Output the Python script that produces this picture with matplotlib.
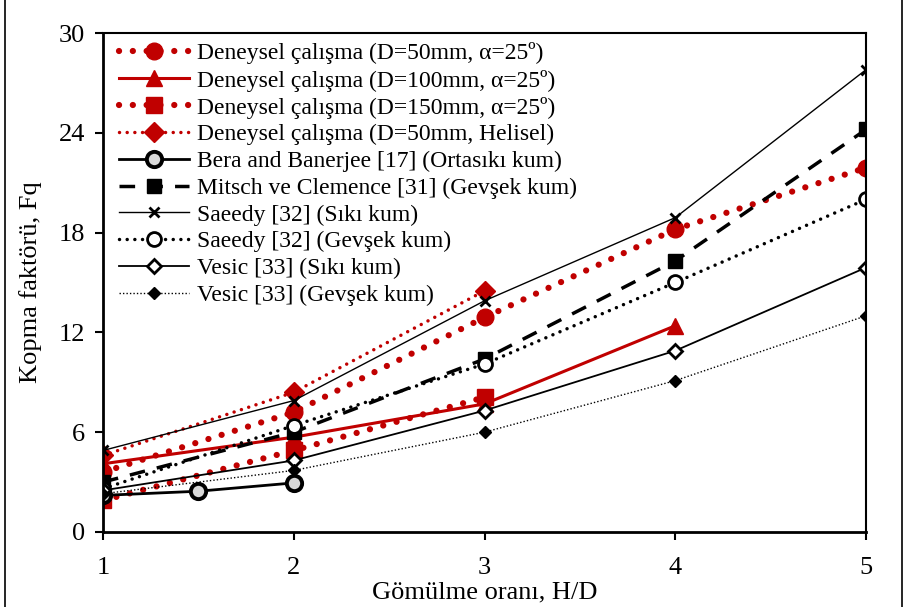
import matplotlib
matplotlib.use('Agg')
import matplotlib.pyplot as plt
from matplotlib.patches import Rectangle

plt.rcParams['font.family'] = ['Liberation Serif', 'DejaVu Serif']

red = '#C00000'

# H/D values
x_full = [1, 2, 3, 4, 5]
x_d50 = [1, 2, 3, 4, 5]
x_d100 = [1, 2, 3, 4]
x_d150 = [1, 2, 3]
x_helis = [1, 2, 3]
x_bera = [1, 1.5, 2]

# Fq values
fq_d50 = [3.6, 7.2, 12.9, 18.2, 21.9]
fq_d100 = [4.1, 5.7, 7.7, 12.4]
fq_d150 = [1.9, 4.9, 8.1]
fq_helis = [4.6, 8.4, 14.5]
fq_bera = [2.2, 2.45, 2.95]
fq_mitsch = [3.0, 6.0, 10.4, 16.3, 24.2]
fq_saeedy_siki = [4.9, 7.9, 13.9, 18.9, 27.8]
fq_saeedy_gevsek = [2.6, 6.4, 10.1, 15.0, 20.0]
fq_vesic_siki = [2.5, 4.3, 7.3, 10.9, 15.9]
fq_vesic_gevsek = [2.3, 3.7, 6.0, 9.1, 13.0]

labels = [
    'Deneysel çalışma (D=50mm, α=25º)',
    'Deneysel çalışma (D=100mm, α=25º)',
    'Deneysel çalışma (D=150mm, α=25º)',
    'Deneysel çalışma (D=50mm, Helisel)',
    'Bera and Banerjee [17] (Ortasıkı kum)',
    'Mitsch ve Clemence [31] (Gevşek kum)',
    'Saeedy [32] (Sıkı kum)',
    'Saeedy [32] (Gevşek kum)',
    'Vesic [33] (Sıkı kum)',
    'Vesic [33] (Gevşek kum)',
]

fig = plt.figure(figsize=(9.05, 6.07), dpi=100)
ax = fig.add_axes([0.1138, 0.1236, 0.8432, 0.822])

big_dots = (0, (0.01, 2.2))
ax.plot(x_d50, fq_d50, color=red, lw=4.5, ls=big_dots, dash_capstyle='round',
        marker='o', ms=12, label=labels[0])
ax.plot(x_d100, fq_d100, color=red, lw=2.2, ls='-',
        marker='^', ms=12, label=labels[1])
ax.plot(x_d150, fq_d150, color=red, lw=4.5, ls=big_dots, dash_capstyle='round',
        marker='s', ms=11, label=labels[2])
ax.plot(x_helis, fq_helis, color=red, lw=2.5, ls=(0, (0.01, 2.2)), dash_capstyle='round',
        marker='D', ms=10, label=labels[3])
ax.plot(x_bera, fq_bera, color='black', lw=2, ls='-',
        marker='o', ms=11, mfc='#d9d9d9', mec='black', mew=2.8, label=labels[4])
ax.plot(x_full, fq_mitsch, color='black', lw=2.5, ls=(0, (4.5, 3.5)),
        marker='s', ms=10, label=labels[5])
ax.plot(x_full, fq_saeedy_siki, color='black', lw=1, ls='-',
        marker='x', ms=7, mew=2, label=labels[6])
ax.plot(x_full, fq_saeedy_gevsek, color='black', lw=2.5, ls=(0, (0.01, 2.2)), dash_capstyle='round',
        marker='o', ms=10, mfc='white', mew=2, label=labels[7])
ax.plot(x_full, fq_vesic_siki, color='black', lw=1.3, ls='-',
        marker='D', ms=7, mfc='white', mew=2, label=labels[8])
ax.plot(x_full, fq_vesic_gevsek, color='black', lw=1, ls=(0, (1, 1.5)),
        marker='D', ms=6, label=labels[9])

ax.set_xlim(1, 5)
ax.set_ylim(0, 30)
ax.set_xticks([1, 2, 3, 4, 5])
ax.set_yticks([0, 6, 12, 18, 24, 30])
ax.tick_params(axis='both', direction='out', length=6, width=1.5, labelsize=19, pad=7)
ax.tick_params(axis='x', pad=12)
for s in ax.spines.values():
    s.set_linewidth(1.5)
ax.spines['bottom'].set_linewidth(2)
ax.spines['left'].set_linewidth(2)

ax.set_xlabel('Gömülme oranı, H/D', fontsize=19, labelpad=2)
ax.set_ylabel('Kopma faktörü, Fq', fontsize=19, labelpad=12)

ax.legend(loc='upper left', fontsize=17, frameon=False, numpoints=1,
          handlelength=3.0, labelspacing=0.22, handletextpad=0.3,
          borderaxespad=0.1, bbox_to_anchor=(0.005, 1.005))

fig.add_artist(Rectangle((0.006, -0.01), 0.991, 1.02, fill=False, lw=1.2,
                         edgecolor='black', transform=fig.transFigure))

plt.savefig('out.png', dpi=100)
